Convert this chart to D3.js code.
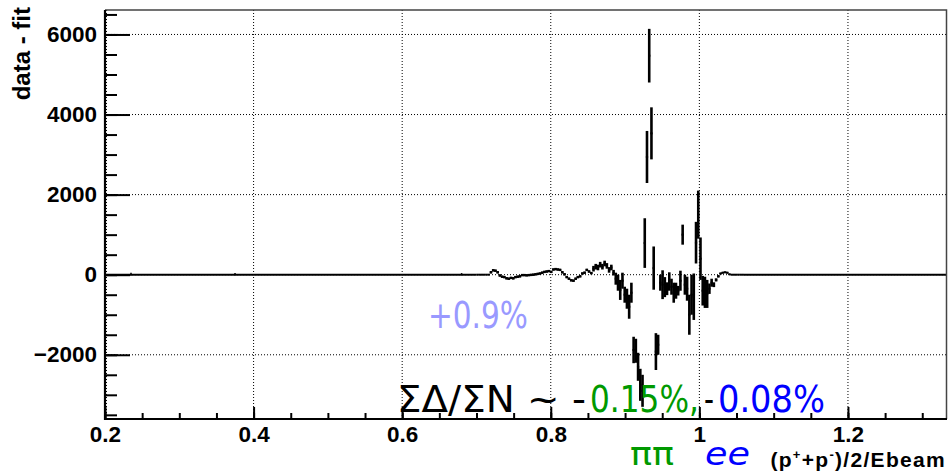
<!DOCTYPE html>
<html>
<head>
<meta charset="utf-8">
<script src="https://cdn.jsdelivr.net/npm/d3@7"></script>
<style>
body { margin: 0; background: #fff; }
</style>
</head>
<body>
<div id="chart"></div>
<script>
// axis ranges and ticks
const xDomain = [0.2, 1.3333];
const yDomain = [-3604, 6611];
const xTicks = [0.2, 0.4, 0.6, 0.8, 1.0, 1.2];
const xTickLabels = ["0.2", "0.4", "0.6", "0.8", "1", "1.2"];
const yTicks = [-2000, 0, 2000, 4000, 6000];
const yTickLabels = ["\u22122000", "0", "2000", "4000", "6000"];

// residual histogram (data - fit), flat at zero outside the detailed bins
const histRange = [0.2, 1.3333];
const binStart = 0.70;
const binWidth = 0.003;
const residuals = [
    0, 0, 0, 0, 0, 0, 60, 110, 100, 60,
    -20, -50, -60, -90, -100, -80, -90, -60, -50, -40,
    -10, -10, -15, -10, -5, 0, 10, 20, 30, 50,
    70, 80, 90, 70, 130, 140, 130, 120, 60, 10,
    -60, -100, -140, -150, -100, -60, -40, 30, 50, 120,
    80, 40, 150, 200, 180, 250, 200, 280, 220, 120,
    180, 50, -100, -200, -380, -150, -500, -600, -800, -450,
    -1880, -1900, -2300, -2750, -2900, 790, 2940, 5470, 3530, 165,
    -1920, -1750, -200, -250, -310, -350, -170, -300, -450, -400,
    -400, -150, 1000, -250, -350, -1000, -500, -550, 800, 1500,
    400, -400, -440, -480, -350, -200, -250, -130, -40, 30,
    50, 60, 50, 10, 0, 0, 0, 0, 0, 0
];
const errors = [
    10, 10, 10, 10, 10, 10, 30, 30, 30, 30,
    30, 30, 30, 30, 30, 30, 30, 30, 30, 30,
    30, 30, 30, 30, 30, 30, 30, 30, 30, 30,
    30, 30, 30, 30, 30, 30, 30, 30, 30, 30,
    30, 30, 30, 30, 30, 30, 30, 30, 30, 30,
    30, 30, 70, 70, 70, 70, 70, 70, 70, 70,
    70, 70, 150, 200, 250, 200, 200, 250, 300, 250,
    330, 300, 350, 400, 400, 620, 650, 670, 650, 540,
    460, 250, 200, 360, 250, 160, 230, 200, 250, 200,
    120, 250, 250, 250, 300, 500, 500, 580, 520, 600,
    530, 370, 390, 350, 130, 100, 60, 40, 30, 20,
    20, 20, 20, 15, 10, 10, 10, 10, 10, 10
];
// isolated tiny fluctuations on the flat part
const blipX = [0.235, 0.375, 0.68];
const blipErr = [50, 40, 40];

document.addEventListener("DOMContentLoaded", setup)

function setup(){
    const width = 948;
    const height = 473;
    const margin = {top: 10, right: 1, bottom: 54, left: 105};

    const svg = d3.select('#chart').append("svg")
        .attr("width", width)
        .attr("height", height);

    const x = d3.scaleLinear().domain(xDomain).range([margin.left, width - margin.right]);
    const y = d3.scaleLinear().domain(yDomain).range([height - margin.bottom, margin.top]);
    const x0 = margin.left, x1 = width - margin.right;
    const y0 = height - margin.bottom, y1 = margin.top;

    // dotted grid
    const grid = svg.append("g")
        .attr("stroke", "#000")
        .attr("stroke-width", 1)
        .attr("stroke-dasharray", "1,2");
    grid.selectAll(".gx").data(xTicks).enter().append("line")
        .attr("x1", d => x(d) + (d === xDomain[0] ? 1.5 : 0))
        .attr("x2", d => x(d) + (d === xDomain[0] ? 1.5 : 0))
        .attr("y1", y1).attr("y2", y0);
    grid.selectAll(".gy").data(yTicks).enter().append("line")
        .attr("x1", x0).attr("x2", x1)
        .attr("y1", d => y(d)).attr("y2", d => y(d));

    // histogram with error bars
    const bins = residuals.map((v, i) => ({
        lo: binStart + i * binWidth,
        hi: binStart + (i + 1) * binWidth,
        v: v,
        e: errors[i]
    }));
    const binEnd = binStart + residuals.length * binWidth;
    const hist = svg.append("g")
        .attr("stroke", "#000")
        .attr("stroke-width", 2)
        .attr("fill", "none");
    hist.append("line")
        .attr("x1", x(histRange[0]) + 1).attr("x2", x(binStart))
        .attr("y1", y(0)).attr("y2", y(0));
    hist.append("line")
        .attr("x1", x(binEnd)).attr("x2", x(histRange[1]))
        .attr("y1", y(0)).attr("y2", y(0));
    hist.selectAll(".hbar").data(bins).enter().append("line")
        .attr("x1", d => x(d.lo)).attr("x2", d => x(d.hi))
        .attr("y1", d => y(d.v)).attr("y2", d => y(d.v));
    hist.selectAll(".ebar").data(bins).enter().append("line")
        .attr("stroke-width", 2.6)
        .attr("x1", d => x((d.lo + d.hi) / 2)).attr("x2", d => x((d.lo + d.hi) / 2))
        .attr("y1", d => y(d.v - d.e)).attr("y2", d => y(d.v + d.e));
    hist.selectAll(".blip").data(blipX).enter().append("line")
        .attr("stroke-width", 1.5)
        .attr("x1", d => x(d)).attr("x2", d => x(d))
        .attr("y1", (d, i) => y(-blipErr[i] / 3)).attr("y2", (d, i) => y(blipErr[i]));

    // axes, ROOT style ticks pointing inside
    const tickFont = "'Liberation Sans', Arial, Helvetica, sans-serif";
    const yMinor = d3.range(-3500, 6501, 500);
    const xMinor = d3.range(0.2, 1.33, 0.05);

    svg.append("g")
        .attr("transform", "translate(" + x0 + ",0)")
        .call(d3.axisLeft(y).tickValues(yMinor).tickSize(-12).tickFormat(""))
        .call(g => g.select(".domain").remove());
    svg.append("g")
        .attr("transform", "translate(0," + y0 + ")")
        .call(d3.axisBottom(x).tickValues(xMinor).tickSize(-6).tickFormat(""))
        .call(g => g.select(".domain").remove());

    const yAxis = svg.append("g")
        .attr("transform", "translate(" + x0 + ",0)")
        .call(d3.axisLeft(y).tickValues(yTicks).tickSize(-25).tickPadding(8)
            .tickFormat((d, i) => yTickLabels[i]));
    const xAxis = svg.append("g")
        .attr("transform", "translate(0," + y0 + ")")
        .call(d3.axisBottom(x).tickValues(xTicks).tickSize(-12).tickPadding(7)
            .tickFormat((d, i) => xTickLabels[i]));

    [yAxis, xAxis].forEach(g => {
        g.select(".domain").remove();
        g.selectAll("text")
            .attr("fill", "#000")
            .style("font-family", tickFont)
            .style("font-weight", "bold")
            .style("font-size", "22.5px");
    });
    svg.selectAll(".tick line").attr("stroke", "#000").attr("stroke-width", 2);

    // frame
    svg.append("path")
        .attr("d", "M" + x0 + "," + y1 + "H" + (x1 - 0.5) + "V" + y0)
        .attr("fill", "none")
        .attr("stroke", "#444")
        .attr("stroke-width", 1.5);
    svg.append("line")
        .attr("x1", x0).attr("x2", x0).attr("y1", y1).attr("y2", y0 + 1)
        .attr("stroke", "#000").attr("stroke-width", 2.2);
    svg.append("line")
        .attr("x1", x0 - 1).attr("x2", x1).attr("y1", y0).attr("y2", y0)
        .attr("stroke", "#000").attr("stroke-width", 2.2);

    // axis titles
    svg.append("text")
        .attr("transform", "translate(30,7) rotate(-90)")
        .attr("text-anchor", "end")
        .style("font-family", tickFont)
        .style("font-weight", "bold")
        .style("font-size", "24px")
        .text("data - fit");

    const xt = svg.append("text")
        .attr("x", 946).attr("y", 467)
        .attr("text-anchor", "end")
        .style("font-family", tickFont)
        .style("font-weight", "bold")
        .style("font-size", "21px")
        .style("letter-spacing", "1.3px");
    xt.append("tspan").text("(p");
    xt.append("tspan").attr("dy", -8).style("font-size", "13px").text("+");
    xt.append("tspan").attr("dy", 8).text("+p");
    xt.append("tspan").attr("dy", -8).style("font-size", "13px").text("-");
    xt.append("tspan").attr("dy", 8).text(")/2/Ebeam");

    // annotations: squeezed horizontally so each one keeps the reference width
    const noteFont = "'DejaVu Sans', sans-serif";
    const notes = [
        {t: "+0.9%", x: 428, y: 328, w: 100, c: "#9999ff", s: 37},
        {t: "\u03a3\u0394/\u03a3N ~ -", x: 397, y: 412, w: 189, c: "#000", s: 37},
        {t: "0.15%,", x: 590, y: 412, w: 109, c: "#009900", s: 37},
        {t: "-", x: 704, y: 412, w: 10, c: "#000", s: 37},
        {t: "0.08%", x: 718, y: 412, w: 107, c: "#0000ff", s: 37},
        {t: "\u03c0\u03c0", x: 630, y: 465, w: 44, c: "#009900", s: 32},
        {t: "ee", x: 705, y: 465, w: 45, c: "#0000ff", s: 32, i: true}
    ];
    svg.selectAll(".note").data(notes).enter().append("text")
        .attr("fill", d => d.c)
        .style("font-family", noteFont)
        .style("font-size", d => d.s + "px")
        .style("font-style", d => d.i ? "italic" : "normal")
        .text(d => d.t)
        .each(function(d) {
            const w = this.getComputedTextLength();
            const k = w > 0 ? d.w / w : 1;
            d3.select(this).attr("transform",
                "translate(" + d.x + "," + d.y + ") scale(" + k + ",1)");
        });
}
</script>
</body>
</html>
